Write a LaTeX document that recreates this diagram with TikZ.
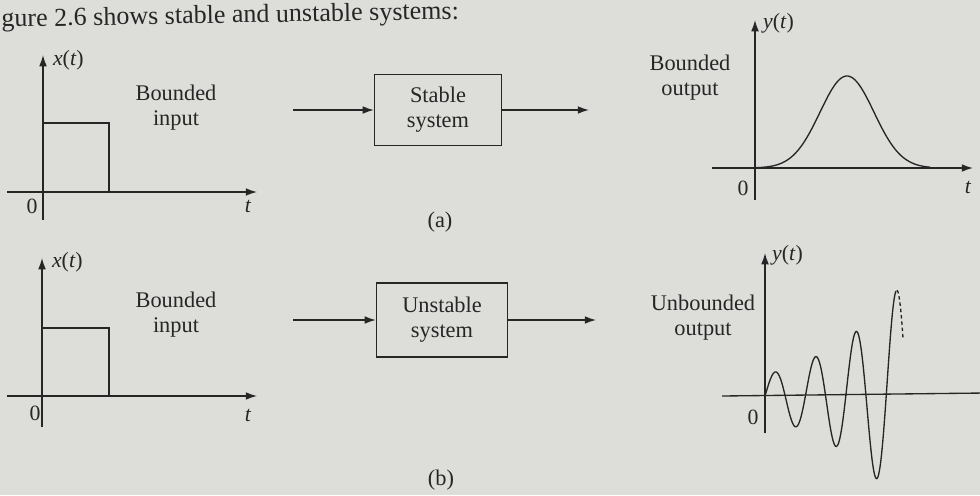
\documentclass[tikz,border=0pt]{standalone}
\usepackage{fontspec}
\setmainfont{Liberation Serif}
\usetikzlibrary{arrows.meta}
\definecolor{paper}{RGB}{221,221,217}
\definecolor{ink}{RGB}{38,38,38}

\begin{document}
\begin{tikzpicture}[x=0.025cm, y=-0.025cm, line width=0.95pt, color=ink,
  axis/.style={-{Latex[length=8pt,width=5.5pt]}},
  flow/.style={-{Latex[length=8pt,width=5.5pt]}},
  sysbox/.style={draw, align=center, inner sep=0pt, font=\fontsize{15.9}{17.7}\selectfont},
  lbl/.style={align=center, font=\fontsize{15.9}{17.7}\selectfont},
  tick/.style={font=\fontsize{15.5}{17}\selectfont, inner sep=1pt}]
  \useasboundingbox (0,0) rectangle (980,495);
  \fill[paper] (0,0) rectangle (980,495);

  \node[anchor=base west, rotate=1, inner sep=0pt, font=\fontsize{18.5}{20}\selectfont]
    (head) at (1,27) {gure 2.6 shows stable and unstable systems:};

  % (a) bounded input
  \draw[axis] (7,192) -- (257,192);
  \draw[axis] (43,220) -- (43,55);
  \draw (43,123) -- (109,123) -- (109,192);
  \node[tick, anchor=west] (xa) at (51,60) {\textit{x}(\textit{t})};
  \node[tick] (za) at (32,206) {0};
  \node[tick] (ta) at (248,206) {\textit{t}};
  \node[lbl] (ina-l) at (176,108) {Bounded\\input};

  % (a) block
  \node[sysbox, minimum width=127*0.025cm, minimum height=71*0.025cm] (stab) at (438,110) {Stable\\system};
  \coordinate (ina) at (293,110);
  \coordinate (outa) at (589,110);
  \draw[flow] (ina) -- (stab);
  \draw[flow] (stab) -- (outa);
  \node[lbl] (capa) at (440,222) {(a)};

  % (a) bounded output
  \draw[axis] (712,168) -- (973,168);
  \draw[axis] (755,200) -- (755,20);
  \draw[domain=755:930, samples=120, smooth] plot (\x, {168-92*exp(-0.5*((\x-847)/27)^2)});
  \node[tick, anchor=west] (ya) at (761,23) {\textit{y}(\textit{t})};
  \node[tick] (zya) at (743,188) {0};
  \node[tick] (tya) at (968,187) {\textit{t}};
  \node[lbl] (outa-l) at (690,78) {Bounded\\output};

  % (b) bounded input
  \draw[axis] (7,396) -- (257,396);
  \draw[axis] (42,427) -- (42,258);
  \draw (42,328) -- (109,328) -- (109,396);
  \node[tick, anchor=west] (xb) at (50,262) {\textit{x}(\textit{t})};
  \node[tick] (zb) at (35,413) {0};
  \node[tick] (tb) at (248,415) {\textit{t}};
  \node[lbl] (inb-l) at (176,315) {Bounded\\input};

  % (b) block
  \node[sysbox, minimum width=131*0.025cm, minimum height=74*0.025cm] (unst) at (442,320) {Unstable\\system};
  \coordinate (inb) at (293,320);
  \coordinate (outb) at (596,320);
  \draw[flow] (inb) -- (unst);
  \draw[flow] (unst) -- (outb);
  \node[lbl] (capb) at (441,480) {(b)};

  % (b) unbounded output, 180/20.2 = 8.911 deg per px
  \draw (722,396) -- (985,393);
  \draw[axis] (765,433) -- (765,253);
  \draw[domain=765:896, samples=220, smooth]
    plot (\x, {396-21.2*exp(0.01222*(\x-765))*sin(8.911*(\x-765))});
  \draw[dash pattern=on 2.5pt off 2pt, domain=897:903, samples=12]
    plot (\x, {396-21.2*exp(0.01222*(\x-765))*sin(8.911*(\x-765))});
  \node[tick, anchor=west] (yb) at (770,255) {\textit{y}(\textit{t})};
  \node[tick] (zyb) at (753,417) {0};
  \node[lbl] (outb-l) at (703,318) {Unbounded\\output};
\end{tikzpicture}
\end{document}
